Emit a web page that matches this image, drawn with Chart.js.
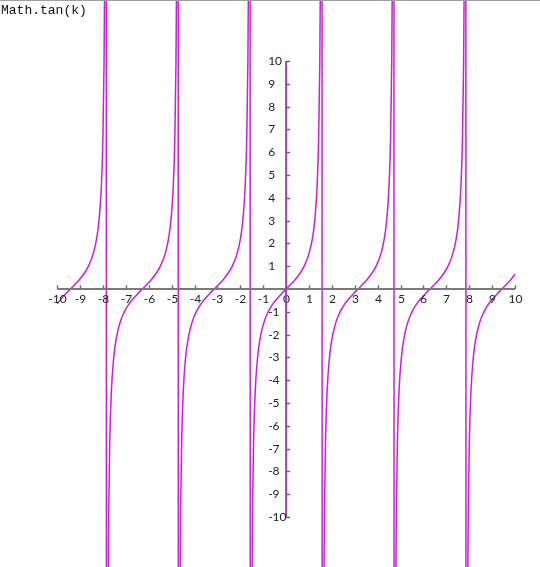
<!DOCTYPE html>
<html>
<head>
<meta charset="utf-8">
<script src="https://cdn.jsdelivr.net/npm/chart.js@4/dist/chart.umd.min.js"></script>
<style>
  html, body { margin: 0; padding: 0; background: #fff; }
  #wrap { position: relative; width: 540px; height: 567px; }
  #title { position: absolute; left: 1px; top: 3px; font: 13px "Liberation Mono", "DejaVu Sans Mono", monospace; color: #111; }
  canvas { display: block; }
</style>
</head>
<body>
<div id="wrap">
  <canvas id="c" width="540" height="567"></canvas>
  <div id="title">Math.tan(k)</div>
</div>
<script>
// sample points k and Math.tan(k)
const kValues = [
  -10, -9.825, -9.625, -9.425, -9.225, -9.025, -8.825, -8.625, -8.425, -8.275, -8.175, -8.075, -8.005, -7.955, -7.925, -7.905, -7.885, -7.870,
  -7.838, -7.823, -7.803, -7.783, -7.753, -7.703, -7.633, -7.533, -7.433, -7.283, -7.083, -6.883, -6.683, -6.483, -6.283, -6.083, -5.883, -5.683, -5.483, -5.283, -5.133, -5.033, -4.933, -4.863, -4.813, -4.783, -4.763, -4.743, -4.728,
  -4.697, -4.682, -4.662, -4.642, -4.612, -4.562, -4.492, -4.392, -4.292, -4.142, -3.942, -3.742, -3.542, -3.342, -3.142, -2.942, -2.742, -2.542, -2.342, -2.142, -1.992, -1.892, -1.792, -1.722, -1.672, -1.642, -1.622, -1.602, -1.587,
  -1.555, -1.54, -1.52, -1.5, -1.47, -1.42, -1.35, -1.25, -1.15, -1, -0.8, -0.6, -0.4, -0.2, 0, 0.2, 0.4, 0.6, 0.8, 1, 1.15, 1.25, 1.35, 1.42, 1.47, 1.5, 1.52, 1.54, 1.555,
  1.587, 1.602, 1.622, 1.642, 1.672, 1.722, 1.792, 1.892, 1.992, 2.142, 2.342, 2.542, 2.742, 2.942, 3.142, 3.342, 3.542, 3.742, 3.942, 4.142, 4.292, 4.392, 4.492, 4.562, 4.612, 4.642, 4.662, 4.682, 4.697,
  4.728, 4.743, 4.763, 4.783, 4.813, 4.863, 4.933, 5.033, 5.133, 5.283, 5.483, 5.683, 5.883, 6.083, 6.283, 6.483, 6.683, 6.883, 7.083, 7.283, 7.433, 7.533, 7.633, 7.703, 7.753, 7.783, 7.803, 7.823, 7.838,
  7.870, 7.885, 7.905, 7.925, 7.955, 8.005, 8.075, 8.175, 8.275, 8.425, 8.625, 8.825, 9.025, 9.225, 9.425, 9.625, 9.825, 10
];
const tanValues = [
  -0.648, -0.423, -0.203, 0, 0.203, 0.423, 0.684, 1.030, 1.557, 2.234, 3.010, 4.455, 6.581, 9.887, 14.10, 19.67, 32.46, 63.3,
  -63.3, -32.46, -19.67, -14.10, -9.887, -6.581, -4.455, -3.010, -2.234, -1.557, -1.030, -0.684, -0.423, -0.203, 0, 0.203, 0.423, 0.684, 1.030, 1.557, 2.234, 3.010, 4.455, 6.581, 9.887, 14.10, 19.67, 32.46, 63.3,
  -63.3, -32.46, -19.67, -14.10, -9.887, -6.581, -4.455, -3.010, -2.234, -1.557, -1.030, -0.684, -0.423, -0.203, 0, 0.203, 0.423, 0.684, 1.030, 1.557, 2.234, 3.010, 4.455, 6.581, 9.887, 14.10, 19.67, 32.46, 63.3,
  -63.3, -32.46, -19.67, -14.10, -9.887, -6.581, -4.455, -3.010, -2.234, -1.557, -1.030, -0.684, -0.423, -0.203, 0, 0.203, 0.423, 0.684, 1.030, 1.557, 2.234, 3.010, 4.455, 6.581, 9.887, 14.10, 19.67, 32.46, 63.3,
  -63.3, -32.46, -19.67, -14.10, -9.887, -6.581, -4.455, -3.010, -2.234, -1.557, -1.030, -0.684, -0.423, -0.203, 0, 0.203, 0.423, 0.684, 1.030, 1.557, 2.234, 3.010, 4.455, 6.581, 9.887, 14.10, 19.67, 32.46, 63.3,
  -63.3, -32.46, -19.67, -14.10, -9.887, -6.581, -4.455, -3.010, -2.234, -1.557, -1.030, -0.684, -0.423, -0.203, 0, 0.203, 0.423, 0.684, 1.030, 1.557, 2.234, 3.010, 4.455, 6.581, 9.887, 14.10, 19.67, 32.46, 63.3,
  -63.3, -32.46, -19.67, -14.10, -9.887, -6.581, -4.455, -3.010, -2.234, -1.557, -1.030, -0.684, -0.423, -0.203, 0, 0.203, 0.423, 0.648
];
const xTicks = [-10, -9, -8, -7, -6, -5, -4, -3, -2, -1, 0, 1, 2, 3, 4, 5, 6, 7, 8, 9, 10];
const yTicks = [10, 9, 8, 7, 6, 5, 4, 3, 2, 1, -1, -2, -3, -4, -5, -6, -7, -8, -9, -10];
const xView = [-12.50, 11.09];
const yView = [-12.19, 12.68];

const points = kValues.map((k, i) => ({ x: k, y: tanValues[i] }));

const axesPlugin = {
  id: 'centerAxes',
  afterDatasetsDraw(chart) {
    const ctx = chart.ctx;
    const xs = chart.scales.x, ys = chart.scales.y;
    const y0 = ys.getPixelForValue(0);
    const x0 = xs.getPixelForValue(0);
    ctx.save();
    // top border line
    ctx.strokeStyle = '#a0a0a0';
    ctx.lineWidth = 1;
    ctx.beginPath(); ctx.moveTo(0, 0.5); ctx.lineTo(540, 0.5); ctx.stroke();
    // x axis
    ctx.strokeStyle = '#7a7a7a';
    ctx.lineWidth = 2;
    ctx.beginPath();
    ctx.moveTo(xs.getPixelForValue(xTicks[0]), y0);
    ctx.lineTo(xs.getPixelForValue(xTicks[xTicks.length - 1]), y0);
    ctx.stroke();
    ctx.lineWidth = 1.5;
    ctx.font = '12px Lato, "Open Sans", sans-serif';
    ctx.fillStyle = '#222';
    ctx.textAlign = 'center';
    ctx.textBaseline = 'top';
    xTicks.forEach(v => {
      const px = Math.round(xs.getPixelForValue(v)) + 0.5;
      ctx.beginPath(); ctx.moveTo(px, y0); ctx.lineTo(px, y0 - 4); ctx.stroke();
      ctx.fillText(String(v), px, y0 + 4);
    });
    // y axis
    ctx.strokeStyle = '#9a40b0';
    ctx.lineWidth = 2;
    ctx.beginPath();
    ctx.moveTo(x0, ys.getPixelForValue(10));
    ctx.lineTo(x0, ys.getPixelForValue(-10));
    ctx.stroke();
    ctx.lineWidth = 1.5;
    ctx.textAlign = 'left';
    ctx.textBaseline = 'middle';
    yTicks.forEach(v => {
      const py = Math.round(ys.getPixelForValue(v)) + 0.5;
      ctx.beginPath(); ctx.moveTo(x0, py); ctx.lineTo(x0 + 4, py); ctx.stroke();
      ctx.fillText(String(v), x0 - 18, py);
    });
    ctx.restore();
  }
};

new Chart(document.getElementById('c'), {
  type: 'line',
  data: {
    datasets: [{
      label: 'Math.tan(k)',
      data: points,
      borderColor: '#cc1ed8',
      borderWidth: 1.5,
      pointRadius: 0,
      fill: false,
      cubicInterpolationMode: 'monotone',
      clip: false
    }]
  },
  options: {
    responsive: false,
    animation: false,
    events: [],
    layout: { padding: 0 },
    plugins: { legend: { display: false }, tooltip: { enabled: false }, title: { display: false } },
    scales: {
      x: { type: 'linear', min: xView[0], max: xView[1], display: false },
      y: { type: 'linear', min: yView[0], max: yView[1], display: false }
    }
  },
  plugins: [axesPlugin]
});
</script>
</body>
</html>
